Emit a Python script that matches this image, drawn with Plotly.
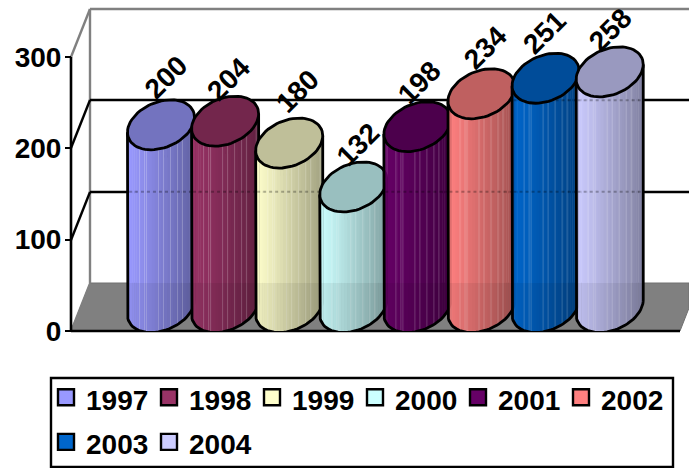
import math
import plotly.graph_objects as go

years = ["1997", "1998", "1999", "2000", "2001", "2002", "2003", "2004"]
values = [200, 204, 180, 132, 198, 234, 251, 258]
colors = ["#9999FF", "#993366", "#FFFFCC", "#CCFFFF", "#660066", "#FF8080", "#0066CC", "#CCCCFF"]
y_ticks = [0, 100, 200, 300]
label_dx = [5, 3, 8, 5, 2, 4, -1, 1]
label_dy = [45.5, 40.5, 50.5, 40.5, 42.5, 44.5, 44.5, 40.5]

W, H = 689, 468
Y0_PX, Y300_PX = 331, 57
UNIT_X = 64.1                     # pixels per category
UNIT_Y = (Y0_PX - Y300_PX) / 300  # pixels per value unit
X0_PX = 161                       # pixel of the first category
FONT = "Liberation Sans"
OUTLINE = 2.8

def xd(px):
    return (px - X0_PX) / UNIT_X

def yd(px):
    return (Y0_PX - px) / UNIT_Y

AX, BX, BY = 32 / UNIT_X, 10 / UNIT_X, 25 / UNIT_Y
DROP = 1.5 / UNIT_Y
T0 = math.atan(BX / AX)
N_STRIPS = 34
STREAKS = [12, 17, 19, 31, 36, 43, 50, 55]
DEPTH_Y = 48 / UNIT_Y

def pt(i, base, t):
    return i + AX * math.cos(t) + BX * math.sin(t), base + BY - DROP + BY * math.sin(t)

def shade(col, f):
    r, g, b = int(col[1:3], 16), int(col[3:5], 16), int(col[5:7], 16)
    return f"rgb({round(r*f)},{round(g*f)},{round(b*f)})"

fig = go.Figure()

# the points themselves: drive the legend and sit behind each cylinder
for i, (yr, v, c) in enumerate(zip(years, values, colors)):
    fig.add_trace(go.Scatter(
        x=[i], y=[v], mode="markers", hoverinfo="skip",
        name=f'<span style="font-size:28px">{yr}</span>',
        marker=dict(symbol="square", size=16, color=c, line=dict(color="black", width=2.4)),
    ))

def front_arc(i, base, n=40):
    return [pt(i, base, math.pi + T0 + math.pi * k / n) for k in range(n + 1)]

for i, (v, c) in enumerate(zip(values, colors)):
    # body, left to right
    for s in range(N_STRIPS):
        t1 = math.pi + T0 + math.pi * s / N_STRIPS
        t2 = math.pi + T0 + math.pi * (s + 1.25) / N_STRIPS
        t2 = min(t2, 2 * math.pi + T0)
        (x1, b1), (x2, b2) = pt(i, 0, t1), pt(i, 0, t2)
        f = 1 - 0.37 * (x1 - (i - 0.523)) / 1.046
        fig.add_trace(go.Scatter(
            x=[x1, x2, x2, x1, x1], y=[b1, b2, b2 + v, b1 + v, b1],
            mode="lines", fill="toself", fillcolor=shade(c, f), line=dict(width=0),
            showlegend=False, hoverinfo="skip"))
    # lighter streaks
    left_px = X0_PX + UNIT_X * i - 33.5
    for off in STREAKS:
        xs = xd(left_px + off)
        t = math.pi + T0 + math.acos(max(-1, min(1, 1 - 2 * off / 67)))
        yb = pt(i, 0, t)[1]
        fig.add_trace(go.Scatter(
            x=[xs, xs], y=[yb, yb + v], mode="lines",
            line=dict(color="rgba(255,255,255,0.22)", width=1),
            showlegend=False, hoverinfo="skip"))
    # back floor band seen through the body
    arc = front_arc(i, 0)
    floor_y = yd(283)
    fig.add_trace(go.Scatter(
        x=[p[0] for p in arc] + [arc[-1][0], arc[0][0], arc[0][0]],
        y=[p[1] for p in arc] + [floor_y, floor_y, arc[0][1]],
        mode="lines", fill="toself", fillcolor="rgba(0,0,0,0.06)", line=dict(width=0),
        showlegend=False, hoverinfo="skip"))
    # back gridlines seen through the body
    for g in (100, 200):
        gy = g + DEPTH_Y
        if gy < v + BY:
            fig.add_trace(go.Scatter(
                x=[i - 0.50, i + 0.50], y=[gy, gy], mode="lines",
                line=dict(color="rgba(0,0,0,0.28)", width=2, dash="dot"),
                showlegend=False, hoverinfo="skip"))
    # outline of the body
    ox = [arc[0][0]] + [p[0] for p in arc] + [arc[-1][0]]
    oy = [arc[0][1] + v] + [p[1] for p in arc] + [arc[-1][1] + v]
    fig.add_trace(go.Scatter(
        x=ox, y=oy, mode="lines", line=dict(color="black", width=OUTLINE),
        showlegend=False, hoverinfo="skip"))
    # top ellipse
    ring = [pt(i, v, 2 * math.pi * k / 64) for k in range(65)]
    fig.add_trace(go.Scatter(
        x=[p[0] for p in ring], y=[p[1] for p in ring], mode="lines", fill="toself",
        fillcolor=shade(c, 0.75), line=dict(color="black", width=OUTLINE),
        showlegend=False, hoverinfo="skip"))

GREY = "#808080"
def seg(px0, py0, px1, py1, color, width):
    return dict(type="line", xref="paper", yref="paper", layer="below",
                x0=px0 / W, x1=px1 / W, y0=1 - py0 / H, y1=1 - py1 / H,
                line=dict(color=color, width=width))

shapes = [
    dict(type="path", xref="paper", yref="paper", layer="below", fillcolor=GREY, line=dict(color="#707070", width=1),
         path=f"M{71/W},{1-331/H} L{90/W},{1-283/H} L1,{1-283/H} L1,{1-308/H} L{680/W},{1-331/H} Z"),
    seg(90, 283, 90, 9, GREY, 2.4),
    seg(90, 9, 689, 9, GREY, 2.4),
    seg(71, 57, 90, 9, GREY, 2.4),
    seg(71, 331, 90, 283, GREY, 2),
    seg(71, 331, 680, 331, "black", 2.6),
    seg(71, 57, 71, 332, "black", 2.6),
    # legend box
    dict(type="rect", xref="paper", yref="paper", layer="below",
         x0=51 / W, x1=673 / W, y0=1 - 467 / H, y1=1 - 378 / H,
         fillcolor="white", line=dict(color="black", width=2.4)),
]
for gy in (100, 192):
    shapes.append(seg(90, gy, 689, gy, "black", 2.4))
    shapes.append(seg(71, gy + 48, 90, gy, "black", 2.4))

annotations = [
    dict(x=i, y=v + BY, xref="x", yref="y", text=str(v), showarrow=False, textangle=-45,
         xshift=dx, yshift=dy, xanchor="center", yanchor="middle",
         font=dict(family=FONT, size=28, color="black", weight=700))
    for i, (v, dx, dy) in enumerate(zip(values, label_dx, label_dy))
]

fig.update_layout(
    width=W, height=H, autosize=False,
    margin=dict(l=0, r=0, t=0, b=0, autoexpand=False),
    paper_bgcolor="white", plot_bgcolor="rgba(0,0,0,0)",
    shapes=shapes, annotations=annotations,
    xaxis=dict(range=[xd(0), xd(W)], domain=[0, 1], visible=False, fixedrange=True),
    yaxis=dict(range=[0, yd(0)], domain=[(H - Y0_PX) / H, 1],
               anchor="free", position=71 / W, tickvals=y_ticks,
               ticks="outside", ticklen=6, tickwidth=2.4, tickcolor="black", ticklabelstandoff=-2,
               showline=False, showgrid=False, zeroline=False,
               tickfont=dict(family=FONT, size=28, color="black", weight=700), fixedrange=True),
    legend=dict(orientation="h", x=46 / W, y=(H - 370) / H, xanchor="left", yanchor="top",
                entrywidth=58, entrywidthmode="pixels", itemwidth=30,
                bgcolor="rgba(0,0,0,0)", borderwidth=0,
                font=dict(family=FONT, size=32, color="black", weight=700)),
    showlegend=True,
)

fig.write_html("out.html", config=dict(displayModeBar=False),
               post_script="document.body.style.margin='0';document.body.style.overflow='hidden';")
